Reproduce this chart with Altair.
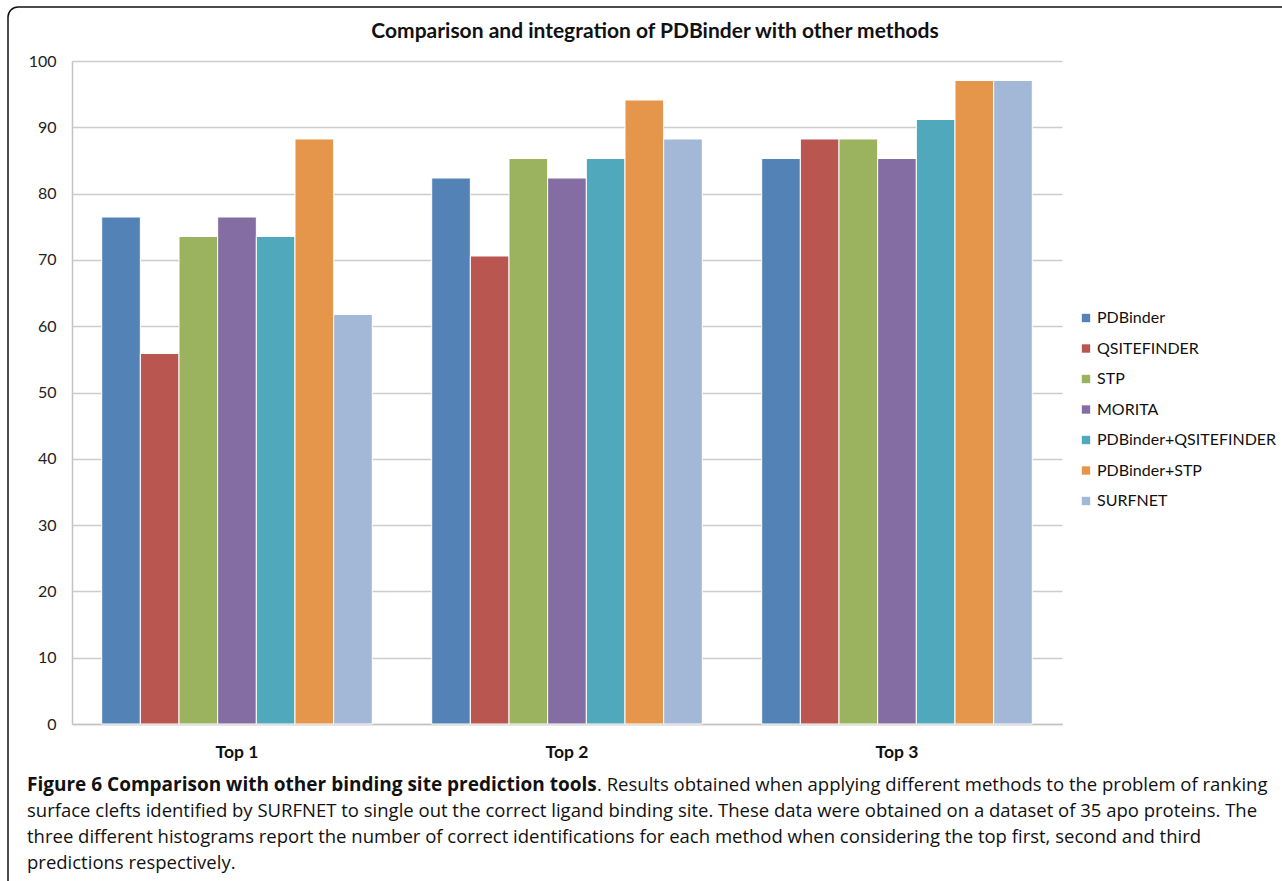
import altair as alt
import pandas as pd

# Share of correctly ranked binding sites (%) per method and ranking depth
groups = ["Top 1", "Top 2", "Top 3"]
methods = [
    "PDBinder",
    "QSITEFINDER",
    "STP",
    "MORITA",
    "PDBinder+QSITEFINDER",
    "PDBinder+STP",
    "SURFNET",
]
top1 = [76.47, 55.88, 73.53, 76.47, 73.53, 88.24, 61.76]
top2 = [82.35, 70.59, 85.29, 82.35, 85.29, 94.12, 88.24]
top3 = [85.29, 88.24, 88.24, 85.29, 91.18, 97.06, 97.06]
colors = ["#5383b6", "#b95650", "#9bb35e", "#836da2", "#50a8bd", "#e5964b", "#a3b8d7"]
y_ticks = [0, 10, 20, 30, 40, 50, 60, 70, 80, 90, 100]

title_text = "Comparison and integration of PDBinder with other methods"
caption_bold = "Figure 6 Comparison with other binding site prediction tools"
caption_lines = [
    ". Results obtained when applying different methods to the problem of ranking",
    "surface clefts identified by SURFNET to single out the correct ligand binding site. These data were obtained on a dataset of 35 apo proteins. The",
    "three different histograms report the number of correct identifications for each method when considering the top first, second and third",
    "predictions respectively.",
]

rows = []
for g, vals in zip(groups, [top1, top2, top3]):
    for m, v in zip(methods, vals):
        rows.append({"group": g, "method": m, "value": v})
df = pd.DataFrame(rows)

W, H = 990, 663
FONT = "Lato"
CAP_FONT = "Open Sans"

bars = (
    alt.Chart(df)
    .mark_bar(stroke="white", strokeWidth=1)
    .encode(
        x=alt.X(
            "group:N",
            sort=groups,
            title=None,
            scale=alt.Scale(paddingInner=0.18, paddingOuter=0.09),
            axis=alt.Axis(
                labelAngle=0,
                labelFont=FONT,
                labelFontSize=17.5,
                labelFontWeight="bold",
                labelColor="#111111",
                labelPadding=19,
                ticks=False,
                domainColor="#c4c4c4",
                domainWidth=1.5,
                grid=False,
            ),
        ),
        xOffset=alt.XOffset("method:N", sort=methods, scale=alt.Scale(paddingInner=0, paddingOuter=0)),
        y=alt.Y(
            "value:Q",
            title=None,
            scale=alt.Scale(domain=[0, 100], nice=False),
            axis=alt.Axis(
                values=y_ticks,
                labelFont=FONT,
                labelFontSize=16,
                labelColor="#222222",
                labelPadding=16,
                ticks=False,
                domainColor="#c4c4c4",
                domainWidth=1.5,
                gridColor="#cccccc",
                gridWidth=1.5,
            ),
        ),
        color=alt.Color(
            "method:N",
            sort=methods,
            scale=alt.Scale(domain=methods, range=colors),
            legend=alt.Legend(
                title=None,
                orient="none",
                legendX=1006,
                legendY=249,
                symbolType="square",
                symbolSize=70,
                symbolStrokeWidth=0,
                labelFont=FONT,
                labelFontSize=16,
                labelColor="#111111",
                labelLimit=0,
                rowPadding=14.5,
                labelOffset=3,
            ),
        ),
    )
)


def text_layer(txt, x, y, weight="normal", size=18.5, font=CAP_FONT, align="left"):
    return (
        alt.Chart(pd.DataFrame({"t": [txt]}))
        .mark_text(
            align=align,
            baseline="middle",
            font=font,
            fontSize=size,
            fontWeight=weight,
            color="#111111",
        )
        .encode(text="t:N", x=alt.value(x), y=alt.value(y))
    )


heading = text_layer(title_text, 583, -29, weight="bold", size=21, font=FONT, align="center")

caption = [text_layer(caption_bold, -45, 724, weight="bold", size=19)]
caption.append(text_layer(caption_lines[0], 525, 724))
for i, line in enumerate(caption_lines[1:], start=1):
    caption.append(text_layer(line, -45, 724 + 26 * i))

# Rounded frame around the figure
frame = (
    alt.Chart(pd.DataFrame({"a": [0]}))
    .mark_rect(fill=None, stroke="#111111", strokeWidth=1.5, cornerRadius=10)
    .encode(x=alt.value(-64), x2=alt.value(1230), y=alt.value(-54), y2=alt.value(840))
)

chart = (
    alt.layer(frame, bars, heading, *caption)
    .properties(
        width=W,
        height=H,
        padding={"left": 72, "top": 61, "right": 220, "bottom": 157},
        autosize=alt.AutoSizeParams(type="none"),
    )
    .configure_view(stroke=None)
)

chart.save("out.html", embed_options={"renderer": "svg", "actions": False})
